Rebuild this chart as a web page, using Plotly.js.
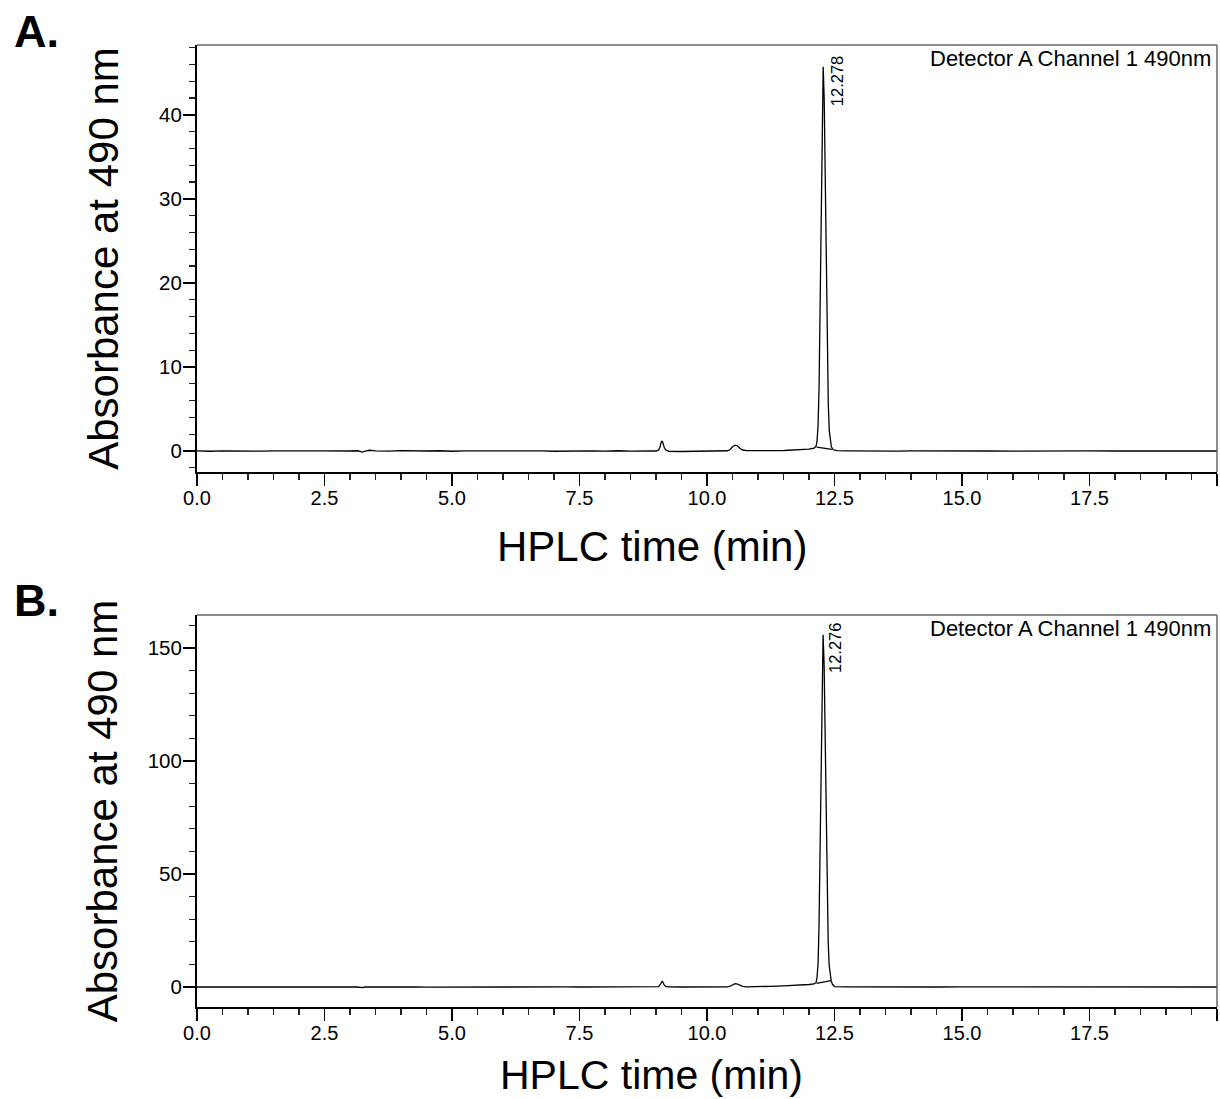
<!DOCTYPE html>
<html>
<head>
<meta charset="utf-8">
<script src="https://cdn.plot.ly/plotly-3.0.1.min.js"></script>
<style>html,body{margin:0;padding:0;background:#fff;}#chart{width:1220px;height:1099px;}</style>
</head>
<body>
<div id="chart"></div>
<script>
// ---- Panel A: retention time (min) and absorbance ----
const timeA = [
  0,0.25,0.5,0.75,1,1.25,1.5,1.75,2,2.25,
  2.5,2.75,3,3.15,3.24,3.3,3.38,3.5,3.75,4,
  4.25,4.5,4.75,5,5.25,5.5,5.75,6,6.25,6.5,
  6.75,7,7.25,7.5,7.75,8,8.25,8.5,8.75,9,
  9.05,9.08,9.10,9.12,9.14,9.16,9.19,9.25,9.5,9.75,
  10.0,10.25,10.40,10.45,10.50,10.55,10.60,10.65,10.70,10.78,
  11.0,11.25,11.5,11.75,11.9,12.0,12.1,12.138,12.158,12.178,
  12.198,12.218,12.238,12.258,12.278,12.298,12.318,12.338,12.358,12.378,
  12.398,12.418,12.438,12.478,12.55,12.75,13.0,13.25,13.5,13.75,
  14,14.5,15,15.5,16,16.5,17,17.5,18,18.5,19,19.5,20
];
const absA = [
  0.02,-0.03,0.01,-0.02,0.03,-0.01,0.02,0.0,-0.03,0.01,
  0.02,-0.02,0.0,0.03,-0.12,0.0,0.09,0.02,-0.02,0.04,
  -0.01,0.0,0.03,-0.03,0.01,0.02,-0.02,0.0,0.03,-0.01,
  0.02,-0.03,0.01,0.0,0.02,-0.01,0.03,-0.02,0.01,0.0,
  0.1,0.5,1.0,1.2,0.9,0.45,0.15,-0.05,-0.06,-0.03,
  -0.02,0.0,0.03,0.15,0.5,0.7,0.6,0.3,0.12,0.05,
  0.02,0.05,0.06,0.1,0.15,0.22,0.35,0.55,1.2,3.1,
  7.8,16.7,29.2,40.9,45.7,41.9,32.4,21.1,11.7,5.6,
  2.4,1.0,0.5,0.15,0.05,0.02,-0.01,0.02,0.0,-0.02,
  0.01,-0.02,0.02,0.0,-0.01,0.02,-0.02,0.01,0.0,0.02,-0.01,0.01,0.0
];
const baseTimeA = [12.15, 12.45];
const baseAbsA = [0.45, 0.2];
const peakLabelA = "12.278";

// ---- Panel B ----
const timeB = [
  0,0.25,0.5,0.75,1,1.25,1.5,1.75,2,2.25,
  2.5,2.75,3,3.15,3.24,3.3,3.38,3.5,3.75,4,
  4.25,4.5,4.75,5,5.25,5.5,5.75,6,6.25,6.5,
  6.75,7,7.25,7.5,7.75,8,8.25,8.5,8.75,9,
  9.05,9.08,9.10,9.12,9.14,9.16,9.19,9.25,9.5,9.75,
  10.0,10.25,10.40,10.45,10.50,10.55,10.60,10.65,10.70,10.78,
  11.0,11.25,11.5,11.75,11.9,12.0,12.1,12.138,12.158,12.178,
  12.196,12.216,12.236,12.256,12.276,12.296,12.316,12.336,12.356,12.376,
  12.396,12.416,12.436,12.46,12.5,12.75,13.0,13.25,13.5,13.75,
  14,14.5,15,15.5,16,16.5,17,17.5,18,18.5,19,19.5,20
];
const absB = [
  0.0,0.02,-0.02,0.0,0.03,0.0,-0.02,0.01,0.0,0.02,
  0.0,-0.02,0.01,0.0,-0.3,0.0,0.05,0.0,0.02,0.1,
  0.0,-0.02,0.01,0.0,0.02,0.0,-0.01,0.02,0.0,0.01,
  -0.02,0.0,0.02,0.0,0.01,-0.01,0.02,0.0,0.01,0.0,
  0.2,1.0,2.1,2.5,1.9,0.9,0.3,0.05,0.0,0.0,
  0.0,0.02,0.05,0.35,1.1,1.5,1.25,0.65,0.25,0.1,
  0.1,0.3,0.5,0.7,0.9,1.1,1.35,1.9,4.3,10.5,
  26.5,57,99,139,155.8,143,111,73,41,20,
  9.5,4.5,2.6,1.2,0.2,0.05,0.0,0.02,0.0,0.0,
  0.01,0.0,0.02,0.0,-0.01,0.01,0.0,0.01,0.0,0.01,0.0,0.01,0.0
];
const baseTimeB = [12.15, 12.43];
const baseAbsB = [1.6, 2.8];
const peakLabelB = "12.276";

// ---- axis tick labels / titles ----
const xTickVals = [0,2.5,5,7.5,10,12.5,15,17.5,20];
const xTickText = ["0.0","2.5","5.0","7.5","10.0","12.5","15.0","17.5",""];
const yTickValsA = [0,10,20,30,40];
const yTickValsB = [0,50,100,150];
const xTitle = "HPLC time (min)";
const yTitle = "Absorbance at 490 nm";
const detectorText = "Detector A Channel 1 490nm";

const FONT = "Arial, 'Liberation Sans', Helvetica, sans-serif";
const lineStyle = {color:'#000', width:1.3};

const traces = [
  {x:timeA, y:absA, xaxis:'x', yaxis:'y', mode:'lines', line:lineStyle, hoverinfo:'skip'},
  {x:baseTimeA, y:baseAbsA, xaxis:'x', yaxis:'y', mode:'lines', line:lineStyle, hoverinfo:'skip'},
  {x:timeB, y:absB, xaxis:'x2', yaxis:'y2', mode:'lines', line:lineStyle, hoverinfo:'skip'},
  {x:baseTimeB, y:baseAbsB, xaxis:'x2', yaxis:'y2', mode:'lines', line:lineStyle, hoverinfo:'skip'}
];

function xAxis(anchor){
  return {
    anchor:anchor, domain:[0,1], range:[0,20],
    tickmode:'array', tickvals:xTickVals, ticktext:xTickText,
    ticks:'outside', ticklen:12, tickwidth:1.5, tickcolor:'#000',
    ticklabelstandoff:-5,
    minor:{tick0:0, dtick:0.5, ticks:'outside', ticklen:6, tickwidth:1.2, tickcolor:'#222', showgrid:false},
    showline:true, linecolor:'#000', linewidth:2, showgrid:false, zeroline:false,
    tickfont:{family:FONT, size:20, color:'#000'}
  };
}
function yAxis(anchor, domain, range, vals, minorStep, standoff){
  return {
    anchor:anchor, domain:domain, range:range,
    tickmode:'array', tickvals:vals, ticktext:vals.map(String),
    ticks:'outside', ticklen:12, tickwidth:1.5, tickcolor:'#000',
    ticklabelstandoff:-3,
    minor:{tick0:0, dtick:minorStep, ticks:'outside', ticklen:6, tickwidth:1.2, tickcolor:'#222', showgrid:false},
    showline:true, linecolor:'#000', linewidth:2, showgrid:false, zeroline:false,
    tickfont:{family:FONT, size:20.5, color:'#000'},
    title:{text:yTitle, font:{family:FONT, size:42, color:'#000'}, standoff:standoff}
  };
}

function frame(xr, yr){
  return [
    {type:'line', xref:xr+' domain', yref:yr+' domain', x0:0, x1:1, y0:1, y1:1, line:{color:'#666', width:1.5}},
    {type:'line', xref:xr+' domain', yref:yr+' domain', x0:1, x1:1, y0:0, y1:1, line:{color:'#666', width:1.5}}
  ];
}

const layout = {
  width:1220, height:1099,
  margin:{l:197, r:3, t:45, b:92},
  paper_bgcolor:'#fff', plot_bgcolor:'#fff',
  showlegend:false,
  font:{family:FONT, color:'#000'},
  xaxis: xAxis('y'),
  yaxis: yAxis('x', [0.5561,1], [-2.5,48.3], yTickValsA, 2, 27),
  xaxis2: xAxis('y2'),
  yaxis2: yAxis('x2', [0,0.4075], [-8.85,164.6], yTickValsB, 10, 17),
  shapes: frame('x','y').concat(frame('x2','y2')),
  annotations:[
    {text:'<b>A.</b>', xref:'paper', yref:'paper', x:-0.1814, y:1.043, xanchor:'left', yanchor:'top', showarrow:false, font:{family:FONT, size:45, color:'#000'}},
    {text:'<b>B.</b>', xref:'paper', yref:'paper', x:-0.1814, y:0.451, xanchor:'left', yanchor:'top', showarrow:false, font:{family:FONT, size:45, color:'#000'}},
    {text:xTitle, xref:'paper', yref:'paper', x:0.446, y:0.4792, xanchor:'center', yanchor:'middle', showarrow:false, font:{family:FONT, size:42, color:'#000'}},
    {text:xTitle, xref:'paper', yref:'paper', x:0.446, y:-0.0708, xanchor:'center', yanchor:'middle', showarrow:false, font:{family:FONT, size:41, color:'#000'}},
    {text:detectorText, xref:'x domain', yref:'y domain', x:1, y:1, xanchor:'right', yanchor:'top', xshift:-4, yshift:1, showarrow:false, font:{family:FONT, size:22, color:'#000'}},
    {text:detectorText, xref:'x2 domain', yref:'y2 domain', x:1, y:1, xanchor:'right', yanchor:'top', xshift:-4, yshift:1, showarrow:false, font:{family:FONT, size:22, color:'#000'}},
    {text:peakLabelA, xref:'x', yref:'y', x:12.55, y:44, textangle:-90, showarrow:false, font:{family:FONT, size:16.5, color:'#000'}},
    {text:peakLabelB, xref:'x2', yref:'y2', x:12.51, y:150, textangle:-90, showarrow:false, font:{family:FONT, size:16.5, color:'#000'}}
  ]
};

Plotly.newPlot('chart', traces, layout, {staticPlot:true, displayModeBar:false});
</script>
</body>
</html>
